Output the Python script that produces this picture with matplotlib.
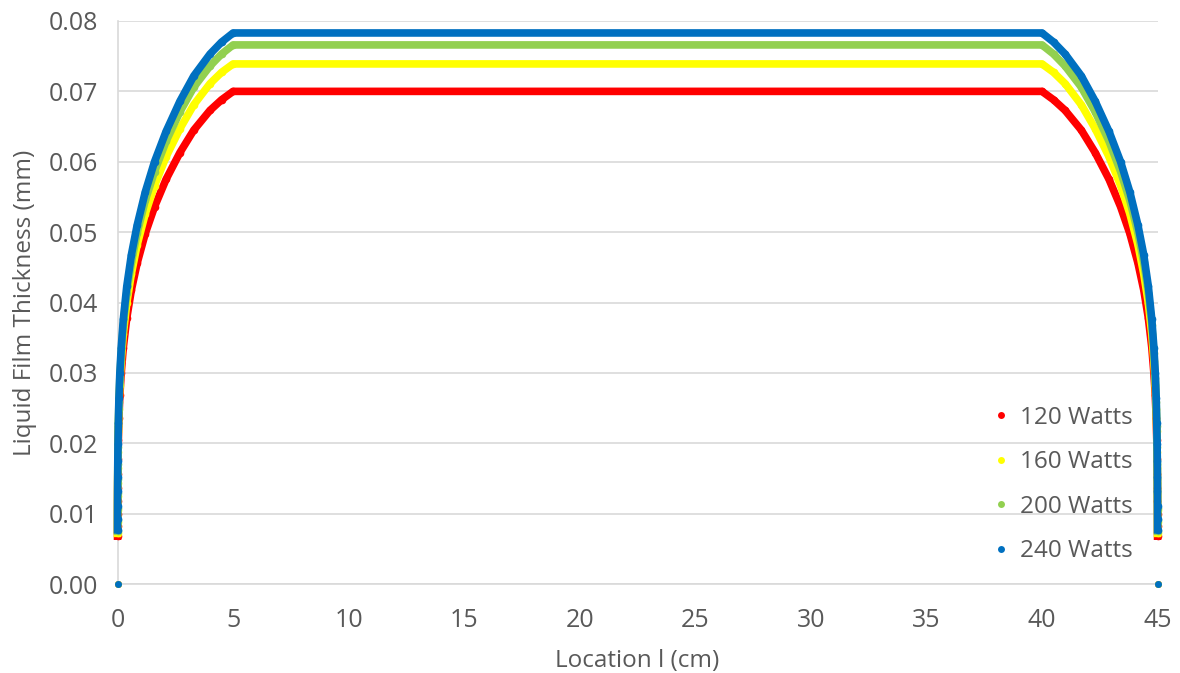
"""Liquid film thickness along the heat pipe for four heat loads"""

import matplotlib.pyplot as plt
from matplotlib.lines import Line2D

plt.rcParams["font.family"] = ["Open Sans", "DejaVu Sans"]

# Location (cm) of the readings on the rising edge, 0 -> 5 cm
x_rise = [0.0005, 0.001, 0.002, 0.004, 0.007, 0.012, 0.02, 0.035, 0.06,
          0.1, 0.16, 0.25, 0.4, 0.6, 0.85, 1.2, 1.6, 2.1, 2.7, 3.3, 4.0,
          4.5, 5.0]
x_len = 45.0

# Film thickness (mm) at x_rise
y_120 = [0.0068, 0.0083, 0.0099, 0.0118, 0.0136, 0.0156, 0.0178, 0.0205,
         0.0236, 0.0268, 0.0300, 0.0336, 0.0378, 0.0418, 0.0456, 0.0498,
         0.0536, 0.0575, 0.0613, 0.0645, 0.0673, 0.0688, 0.0700]
y_160 = [0.0072, 0.0088, 0.0105, 0.0125, 0.0144, 0.0165, 0.0188, 0.0217,
         0.0249, 0.0283, 0.0317, 0.0355, 0.0399, 0.0441, 0.0482, 0.0526,
         0.0566, 0.0607, 0.0647, 0.0681, 0.0711, 0.0727, 0.0739]
y_200 = [0.0075, 0.0091, 0.0108, 0.0129, 0.0149, 0.0171, 0.0195, 0.0224,
         0.0258, 0.0293, 0.0328, 0.0368, 0.0414, 0.0457, 0.0499, 0.0545,
         0.0586, 0.0629, 0.0671, 0.0706, 0.0736, 0.0753, 0.0766]
y_240 = [0.0077, 0.0093, 0.0111, 0.0132, 0.0152, 0.0175, 0.0199, 0.0229,
         0.0264, 0.0300, 0.0336, 0.0376, 0.0423, 0.0468, 0.0510, 0.0557,
         0.0600, 0.0643, 0.0686, 0.0722, 0.0753, 0.0770, 0.0783]

# dry points at both ends of the pipe
x_wall = [0.0, 45.0]
y_wall = [0.0, 0.0]

labels = ["120 Watts", "160 Watts", "200 Watts", "240 Watts"]
colors = ["#FF0000", "#FFFF00", "#92D050", "#0070C0"]
series = [y_120, y_160, y_200, y_240]


def full_profile(y_rise):
    """Rising edge, flat part and the symmetric falling edge"""
    x_fall = [x_len - x for x in reversed(x_rise)]
    xs = x_rise + x_fall
    ys = y_rise + list(reversed(y_rise))
    return xs, ys


fig = plt.figure(figsize=(11.8, 6.73), dpi=100)
ax = fig.add_axes([0.0996, 0.1322, 0.8814, 0.8366])

for y_rise, color in zip(series, colors):
    xs, ys = full_profile(y_rise)
    ax.plot(xs, ys, color=color, lw=5.5, solid_joinstyle="round",
            marker="o", ms=5.5, mew=0, clip_on=False, zorder=3)
    ax.plot(x_wall, y_wall, "o", color=color, ms=5, mew=0,
            clip_on=False, zorder=3)

ax.set_xlim(0, 45)
ax.set_ylim(0, 0.08)
ax.set_xticks(range(0, 50, 5))
ax.set_yticks([i / 100 for i in range(9)])
ax.yaxis.set_major_formatter(plt.FormatStrFormatter("%.2f"))

ax.grid(axis="y", color="#D9D9D9", lw=1.2)
ax.set_axisbelow(True)
for side in ["top", "right"]:
    ax.spines[side].set_visible(False)
for side in ["left", "bottom"]:
    ax.spines[side].set_color("#D9D9D9")
    ax.spines[side].set_linewidth(1.2)
ax.tick_params(length=0, labelsize=18, colors="#595959")
ax.tick_params(axis="x", pad=17)
ax.tick_params(axis="y", pad=14)

ax.set_xlabel("Location l (cm)", fontsize=17.5, color="#595959", labelpad=12)
ax.set_ylabel("Liquid Film Thickness (mm)", fontsize=17.5, color="#595959",
              labelpad=8)

handles = [Line2D([], [], ls="", marker="o", ms=5, mew=0, color=c)
           for c in colors]
ax.legend(handles, labels, loc="center left", bbox_to_anchor=(0.824, 0.280),
          bbox_transform=fig.transFigure, frameon=False, fontsize=17.5,
          labelcolor="#595959", handlelength=0.6, handletextpad=0.45,
          labelspacing=0.84)

plt.savefig("out.png", dpi=100)
plt.close()
